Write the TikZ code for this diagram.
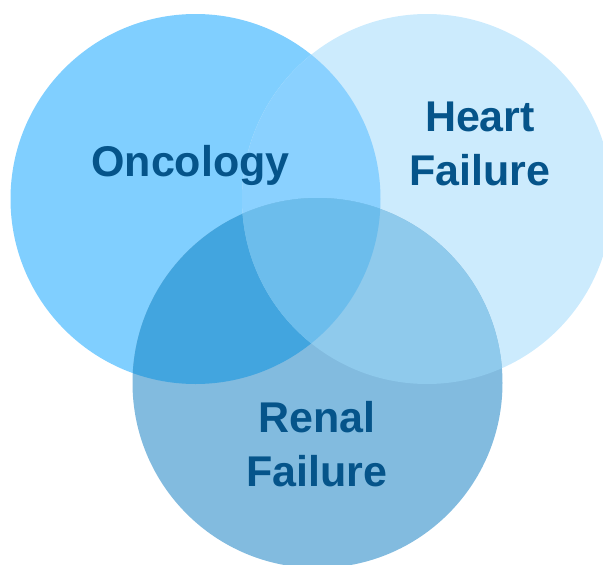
\documentclass[tikz,border=0pt]{standalone}
\usepackage{fontspec}
\setmainfont{Liberation Sans}
\usetikzlibrary{positioning}

\definecolor{monc}{RGB}{128,207,255}
\definecolor{mheart}{RGB}{204,235,253}
\definecolor{mrenal}{RGB}{130,187,223}
\definecolor{moncheart}{RGB}{138,209,255}
\definecolor{moncrenal}{RGB}{66,165,223}
\definecolor{mheartrenal}{RGB}{143,202,236}
\definecolor{mall}{RGB}{108,189,236}
\definecolor{mtext}{RGB}{5,84,138}
\newcommand*{\colOnc}{monc}
\newcommand*{\colHeart}{mheart}
\newcommand*{\colRenal}{mrenal}
\newcommand*{\rad}{185}
\newcommand*{\xonc}{195.5}
\newcommand*{\yonc}{199}
\newcommand*{\xheart}{427}
\newcommand*{\yheart}{199}
\newcommand*{\xrenal}{317.5}
\newcommand*{\yrenal}{383}

\tikzset{
    label/.style={text=mtext, font=\fontsize{43}{54}\selectfont\bfseries, align=center, anchor=base, inner sep=0pt}
}

\begin{document}
\begin{tikzpicture}[x=1pt,y=-1pt]

    \useasboundingbox (0,0) rectangle (603,565);

    \fill [\colOnc] (\xonc,\yonc) circle (\rad);
    \fill [\colHeart] (\xheart,\yheart) circle (\rad);
    \fill [\colRenal] (\xrenal,\yrenal) circle (\rad);

    \begin{scope}
        \clip (\xonc,\yonc) circle (\rad);
        \fill [moncheart] (\xheart,\yheart) circle (\rad);
        \fill [moncrenal] (\xrenal,\yrenal) circle (\rad);
    \end{scope}

    \begin{scope}
        \clip (\xheart,\yheart) circle (\rad);
        \fill [mheartrenal] (\xrenal,\yrenal) circle (\rad);
        \clip (\xonc,\yonc) circle (\rad);
        \fill [mall] (\xrenal,\yrenal) circle (\rad);
    \end{scope}

    % base anchor sits on the last line
    \node [label] (onc) at (190.5,176.6) {Oncology};
    \node [label] (heart) at (480,185.6) {Heart\\Failure};
    \node [label] (renal) at (317,486.5) {Renal\\Failure};

\end{tikzpicture}
\end{document}
